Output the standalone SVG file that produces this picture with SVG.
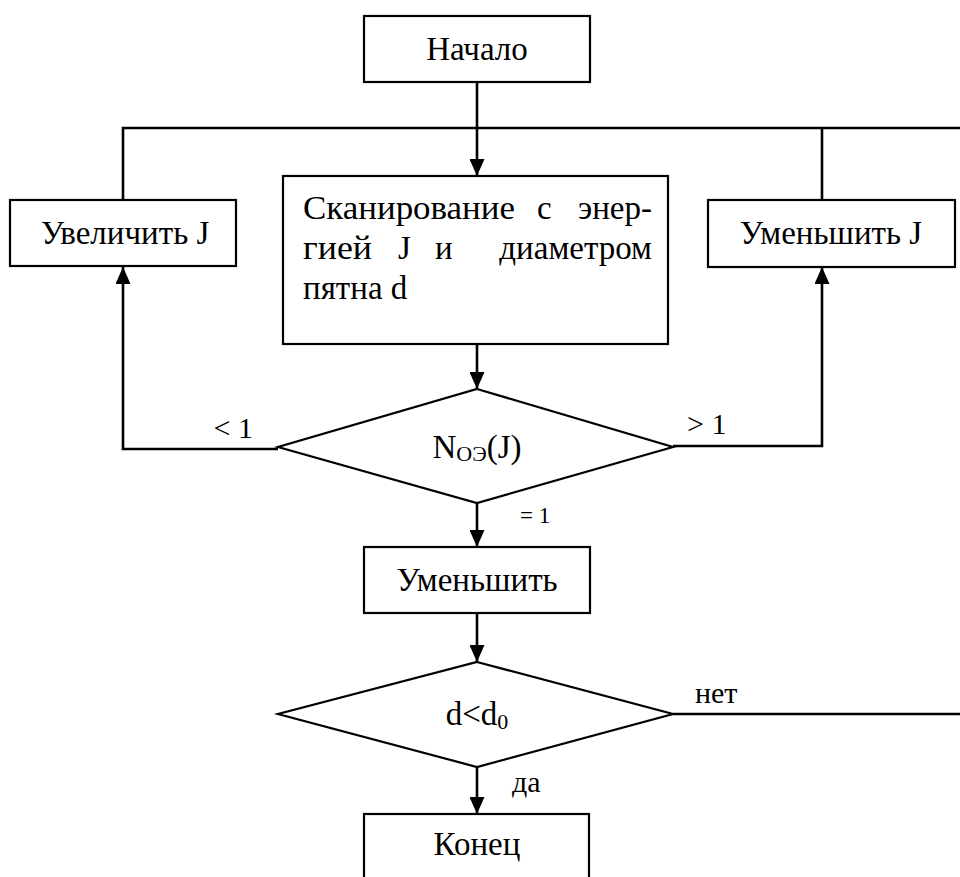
<svg xmlns="http://www.w3.org/2000/svg" width="960" height="877" viewBox="0 0 960 877" font-family="Liberation Serif, Times New Roman, serif">
<style>
.box{fill:#fff;stroke:#000;stroke-width:2.2}
.conn{fill:none;stroke:#000;stroke-width:2.6}
text{font-family:"Liberation Serif","Times New Roman",serif;fill:#000}
.t{font-size:33px}
.lbl{font-size:30px}
.sm{font-size:23px}
</style>
<defs>
<marker id="a" viewBox="0 0 17 15" refX="17" refY="7.5" markerWidth="17" markerHeight="15" orient="auto" markerUnits="userSpaceOnUse">
<path d="M0,0 L17,7.5 L0,15 Z" fill="#000"/>
</marker>
</defs>
<rect width="960" height="877" fill="#fff"/>
<g id="connectors">
<path class="conn" d="M477,82 V176" marker-end="url(#a)"/>
<path class="conn" d="M123,200 V128 H960"/>
<path class="conn" d="M822,200 V128"/>
<path class="conn" d="M477,344 V389" marker-end="url(#a)"/>
<path class="conn" d="M278,449 H123 V267" marker-end="url(#a)"/>
<path class="conn" d="M673,446 H822 V267" marker-end="url(#a)"/>
<path class="conn" d="M477,503 V547" marker-end="url(#a)"/>
<path class="conn" d="M477,613 V662" marker-end="url(#a)"/>
<path class="conn" d="M673,714 H960"/>
<path class="conn" d="M477,767 V814" marker-end="url(#a)"/>
<text class="lbl" x="253" y="438" text-anchor="end">&lt; 1</text>
<text class="lbl" x="687" y="434">&gt; 1</text>
<text class="sm" x="520" y="523">= 1</text>
<text class="lbl" x="695" y="703">нет</text>
<text class="lbl" x="512" y="792">да</text>
</g>
<g id="start">
<rect class="box" x="364" y="16" width="226" height="66"/>
<text class="t" x="477" y="60" text-anchor="middle">Начало</text>
</g>
<g id="increase">
<rect class="box" x="10" y="200" width="226" height="66"/>
<text class="t" x="125" y="244" text-anchor="middle">Увеличить J</text>
</g>
<g id="decrease">
<rect class="box" x="708" y="200" width="247" height="67"/>
<text class="t" x="831" y="244" text-anchor="middle">Уменьшить J</text>
</g>
<g id="scan">
<rect class="box" x="283" y="176" width="385" height="168"/>
<text class="t" x="303" y="219" textLength="212" lengthAdjust="spacingAndGlyphs">Сканирование</text>
<text class="t" x="537" y="219">с</text>
<text class="t" x="652" y="219" text-anchor="end">энер-</text>
<text class="t" x="303" y="259" textLength="69" lengthAdjust="spacingAndGlyphs">гией</text>
<text class="t" x="398" y="259">J</text>
<text class="t" x="435" y="259">и</text>
<text class="t" x="652" y="259" text-anchor="end">диаметром</text>
<text class="t" x="303" y="299">пятна d</text>
</g>
<g id="decision1">
<polygon class="box" points="477,389 673,447 477,503 278,447"/>
<text class="t" x="477" y="458" text-anchor="middle">N<tspan font-size="22" dy="3">ОЭ</tspan><tspan dy="-3">(J)</tspan></text>
</g>
<g id="reduce">
<rect class="box" x="364" y="547" width="226" height="66"/>
<text class="t" x="477" y="591" text-anchor="middle">Уменьшить</text>
</g>
<g id="decision2">
<polygon class="box" points="477,662 673,714 477,767 278,714"/>
<text class="t" x="477" y="725" text-anchor="middle">d&lt;d<tspan font-size="22" dy="4">0</tspan></text>
</g>
<g id="end">
<rect class="box" x="364" y="814" width="225" height="80"/>
<text class="t" x="477" y="855" text-anchor="middle">Конец</text>
</g>
</svg>
